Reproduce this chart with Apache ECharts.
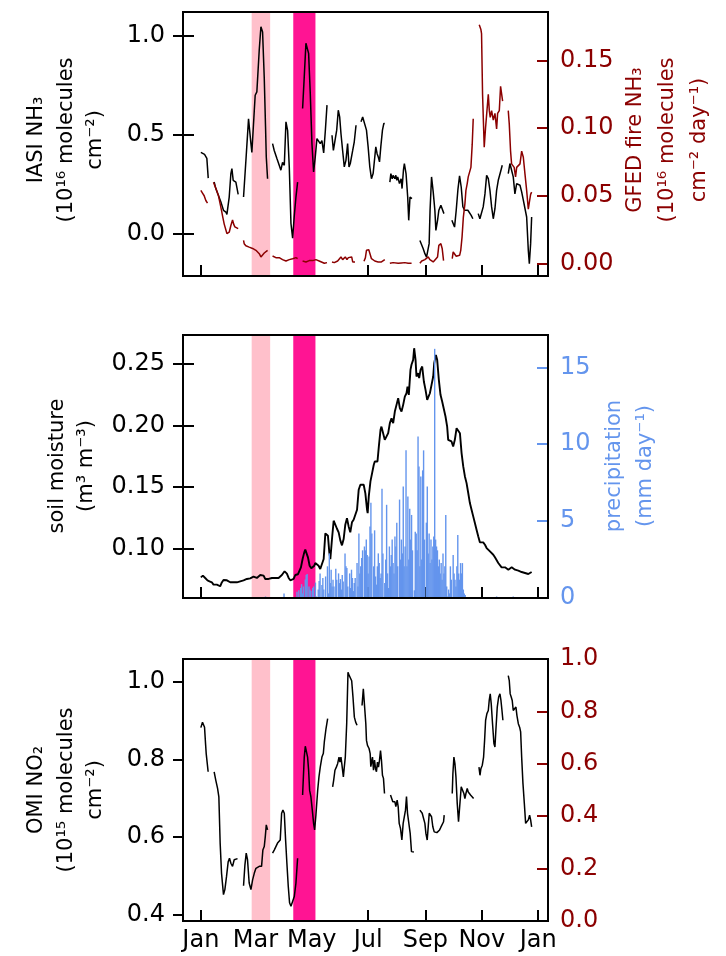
<!DOCTYPE html>
<html>
<head>
<meta charset="utf-8">
<script src="https://cdn.jsdelivr.net/npm/echarts@6/dist/echarts.min.js"></script>
<style>
  html, body { margin: 0; padding: 0; background: #fff; }
  #chart { width: 726px; height: 956px; }
</style>
</head>
<body>
<div id="chart"></div>
<script>
// day of year for the month ticks
const monthTickDays = [0, 59, 120, 181, 243, 304, 365]
const monthLabels = ['Jan', 'Mar', 'May', 'Jul', 'Sep', 'Nov', 'Jan']

// shaded periods (day of year)
const lightPinkSpan = [55, 75]
const deepPinkSpan = [100, 124]

// IASI NH3, 10^16 molecules cm^-2 (null = gap)
const iasiNH3 = [
  [0, 0.41], [2, 0.40], [4, 0.40], [5, 0.39], [6.5, 0.38], [8, 0.28], null,
  [14.4, 0.26], [16.2, 0.227], [18.1, 0.218], [21.7, 0.159], [24.5, 0.117], [27.1, 0.108], [28.2, 0.096], [30.7, 0.184],
  [32.5, 0.303], [33.6, 0.328], [35, 0.269], [36.8, 0.266], [37.9, 0.26], [40.4, 0.198], null,
  [46.2, 0.184], [47, 0.184], [49, 0.387], [51.6, 0.58], [54.2, 0.455], [55.2, 0.41], [57.8, 0.62], [58.8, 0.70],
  [60.6, 0.717], [61.4, 0.72], [63.2, 0.93], [65, 1.047], [66.8, 1.02], [68.6, 0.79], [70, 0.54], [70.8, 0.387], [72.2, 0.277], null,
  [77.6, 0.455], [79.4, 0.42], [82.3, 0.379], [84.8, 0.345], [86.6, 0.32], [88.4, 0.36], [90.3, 0.345], [92.1, 0.565],
  [93.9, 0.52], [95.7, 0.335], [97.5, 0.05], [99.3, -0.024], [101, 0.083], [102.9, 0.184], [104.7, 0.26], null,
  [110.1, 0.633], [111.9, 0.794], [113.7, 0.963], [115.5, 0.968], [116.6, 0.912], [118.4, 0.709], [120.2, 0.455], [122, 0.311],
  [123.8, 0.387], [125.6, 0.48], [127.4, 0.48], [129.2, 0.455], [131, 0.47], [132.9, 0.408], [134.7, 0.52], [136.5, 0.65], null,
  [141.9, 0.497], [143.4, 0.42], [145, 0.42], [147, 0.523], [148.7, 0.624], [150.2, 0.59], [151.6, 0.506], [153.4, 0.42],
  [155.2, 0.337], [157, 0.37], [158.8, 0.455], [160.3, 0.337], [161.7, 0.354], [164.3, 0.42], [166, 0.464], [167.9, 0.548], null,
  [173.3, 0.565], [175.1, 0.59], [176.9, 0.594], [179.2, 0.523], [181, 0.438], [182.8, 0.337], [184.6, 0.277], [186.4, 0.303],
  [188.2, 0.387], [189.3, 0.438], [190.7, 0.404], [192, 0.387], [193.3, 0.362], [194.7, 0.438], [196.5, 0.523], [198, 0.557], [199, 0.557], null,
  [204.5, 0.26], [205.6, 0.303], [207, 0.277], [208, 0.294], [209.9, 0.277], [211, 0.294], [212, 0.269], [213, 0.286],
  [214.9, 0.252], [216.7, 0.277], [217.7, 0.227], [219.2, 0.32], [220.2, 0.354], [222, 0.303], [223.8, 0.184], [224.9, 0.066],
  [226.3, 0.184], [227.3, 0.193], [228.4, 0.176], null,
  [237, -0.036], [238.8, -0.044], [240.6, -0.078], [242.4, -0.103], [244.2, -0.12], [246, -0.125], [247, -0.052], [248, 0.117],
  [249.6, 0.286], [251.4, 0.21], [253.2, 0.117], [254.3, 0.015], [256.1, 0.066], [257.5, 0.117], [259.7, 0.142], [261.1, 0.134], [263, 0.10], null,
  [271.6, 0.066], [272.7, 0.058], [274.5, 0.032], [276.3, 0.117], [278.1, 0.22], [279.9, 0.291], [281.7, 0.235], [283.5, 0.135],
  [285.3, 0.117], [287.1, 0.125], [288.9, 0.117], [290.7, 0.108], [292.5, 0.091], [294.3, 0.074], null,
  [300.1, 0.10], [301.9, 0.074], [303.7, 0.074], [305.5, 0.134], [307.4, 0.20], [309.2, 0.294], [311, 0.277], [312.8, 0.218],
  [314.6, 0.134], [316.4, 0.074], [318.2, 0.125], [320, 0.218], [321.8, 0.269], [323.6, 0.269], [324.7, 0.32], [326.1, 0.345], null,
  [332.6, 0.303], [334.4, 0.354], [336.2, 0.362], [338, 0.286], [339.8, 0.20], [341.7, 0.252], [343.4, 0.252], [345.3, 0.244],
  [347.1, 0.21], [348.9, 0.168], [350.7, 0.159], [352.5, 0.083], [354.3, -0.086], [355.4, -0.154], [356.8, -0.052], [357.9, 0.083]
]

// GFED fire NH3, 10^16 molecules cm^-2 day^-1
const gfedFireNH3 = [
  [0, 0.054], [1.8, 0.052], [3.6, 0.050], [5.4, 0.0465], [7.2, 0.0446], null,
  [13.7, 0.060], [15.2, 0.059], [17, 0.054], [19.1, 0.050], [20.9, 0.044], [22.4, 0.039], [23.8, 0.034], [25.3, 0.029],
  [27.1, 0.028], [28.2, 0.022], [29.6, 0.021], [30.7, 0.023], [32.5, 0.028], [34.3, 0.032], [35.5, 0.029], [36.8, 0.027],
  [38.6, 0.027], [40.4, 0.0256], null,
  [46.2, 0.017], [46.9, 0.0145], [48.7, 0.013], [50.5, 0.014], [52.3, 0.012], [54.2, 0.013], [56, 0.011], [57.8, 0.0115],
  [59.6, 0.0096], [61.4, 0.009], [63.2, 0.0071], [65, 0.0047], [66.8, 0.0052], [68.6, 0.0076], [70.4, 0.009], [72.2, 0.0096], null,
  [77.6, 0.0054], [81.2, 0.0042], [84.8, 0.0042], [88.4, 0.0027], [92.1, 0.0017], [95.7, 0.0027], [99.3, 0.0034], [102.9, 0.0042], [104.7, 0.0034], null,
  [110.1, 0.0017], [113.7, 0.001], [117.3, 0.002], [119.1, 0.001], [121, 0.002], [122.7, 0.0017], [124.5, 0.0027], [128, 0.0017],
  [130, 0.001], [133.6, 0], [136.5, 0.0005], null,
  [141.9, 0.001], [144.4, 0.0005], [146, 0.001], [148, 0.0017], [149.8, 0.0027], [151.6, 0.0047], [153.4, 0.0027], [155.2, 0.0034],
  [156.3, 0.0047], [158.1, 0.0027], [159.6, 0.0042], [161.4, 0.0042], [163.2, 0.0047], [164.3, 0.001], [166.8, 0.001], null,
  [176.5, 0.0015], [178, 0.004], [179.2, 0.0096], [181.7, 0.010], [183, 0.0096], [184.6, 0.0034], [186.4, 0.0022], [188.2, 0.0017],
  [190, 0.0017], [191.8, 0.001], [195.4, 0.001], [199, 0.0027], null,
  [204.5, 0], [208, 0.0005], [210, 0.0003], [213.5, 0], [217, 0.0003], [220.7, 0.0005], [224.3, 0], [228, 0], null,
  [237, 0], [239, 0.0017], [242.4, 0.0027], [244.2, 0.0034], [246, 0.0047], [247.8, 0.0027], [249.6, 0.0017], [251.4, 0.001],
  [253.2, 0.0005], [256.1, 0.0047], [257.5, 0.0133], [259.7, 0.0145], [261.1, 0.011], [262.6, 0.002], null,
  [272, 0.0034], [273, 0.0084], [274.5, 0.0096], [276.3, 0.0052], [278.1, 0.0047], [280, 0.0059], [281.2, 0.0096], [282.6, 0.0194],
  [284, 0.034], [285.7, 0.044], [286.8, 0.054], [288.2, 0.059], [289.3, 0.064], [290.4, 0.065], [292.2, 0.071], [293.6, 0.088], [294.7, 0.107], null,
  [301.2, 0.1765], [303, 0.173], [303.7, 0.17], [304.8, 0.125], [306.6, 0.086], [308, 0.10], [309.2, 0.101], [311, 0.125],
  [312.1, 0.113], [313.1, 0.108], [314.6, 0.113], [316.4, 0.106], [318.2, 0.111], [320, 0.0995], [321.1, 0.111], [322.9, 0.113],
  [324.3, 0.131], [325.4, 0.130], [326.5, 0.12], null,
  [332.6, 0.113], [333.7, 0.103], [335.1, 0.083], [336.2, 0.0736], [337.5, 0.0725], [339, 0.071], [340.5, 0.064], [341.7, 0.071],
  [343.4, 0.07], [345.3, 0.0736], [347.1, 0.083], [348.9, 0.0785], [350.7, 0.066], [352.5, 0.054], [354.3, 0.040], [355.4, 0.045],
  [356.8, 0.051], [357.9, 0.0527]
]

// soil moisture, m3 m-3
const soilMoisture = [
  [0, 0.0771], [2.2, 0.0785], [4.7, 0.0766], [7.2, 0.0747], [9.4, 0.0739], [11.9, 0.0731], [13.7, 0.0712], [15.5, 0.0704],
  [17.3, 0.0712], [19.1, 0.0704], [20.9, 0.0699], [22.7, 0.073], [24.5, 0.075], [26.4, 0.0758], [28.2, 0.0747], [30, 0.0739],
  [31.8, 0.0731], [33.6, 0.0739], [35.4, 0.0731], [37.2, 0.0736], [39, 0.0731], [40.8, 0.0747], [42.6, 0.0739], [44.4, 0.0752],
  [46.2, 0.0747], [48, 0.0752], [49.8, 0.0758], [51.6, 0.0752], [53.4, 0.0763], [55.2, 0.0766], [57, 0.0777], [58.8, 0.0766],
  [60.6, 0.0766], [62.5, 0.0771], [64.3, 0.079], [66.1, 0.079], [67.9, 0.0785], [69.7, 0.0758], [71.5, 0.075], [73.3, 0.0758],
  [75.1, 0.0766], [76.9, 0.0766], [78.7, 0.0758], [80.5, 0.0766], [82.3, 0.0763], [84.1, 0.0766], [85.9, 0.0766], [87.7, 0.079],
  [89.5, 0.0801], [90.6, 0.082], [92, 0.0815], [93.1, 0.0801], [95, 0.0766], [96.8, 0.0747], [98.6, 0.0739], [100.4, 0.0758],
  [102.2, 0.079], [104, 0.0777], [105, 0.0796], [106.9, 0.0812], [108.3, 0.0852], [110.1, 0.0919], [111.9, 0.0973], [113, 0.0995],
  [114.8, 0.0979], [115.9, 0.0933], [117.7, 0.0865], [119.5, 0.0844], [121.3, 0.0839], [122.7, 0.0865], [123.8, 0.0887], [125.6, 0.0887],
  [127.4, 0.0865], [129.2, 0.0839], [131, 0.0852], [132.9, 0.0919], [134.7, 0.1127], [136.5, 0.1135], [137.5, 0.1108], [139, 0.0973],
  [140.1, 0.0919], [141.9, 0.1081], [143.7, 0.1229], [145.5, 0.1216], [147.3, 0.1164], [149.1, 0.1135], [150.9, 0.107], [152.7, 0.103],
  [154.5, 0.1081], [156.3, 0.1197], [158.1, 0.125], [159.9, 0.1183], [161.7, 0.1135], [163.5, 0.1216], [165.3, 0.1237], [167.2, 0.1237],
  [169, 0.1318], [170.8, 0.148], [172.6, 0.152], [174.4, 0.1507], [176.2, 0.152], [178, 0.145], [179.8, 0.132], [180.5, 0.129],
  [181.7, 0.1426], [183.5, 0.1547], [185.3, 0.1614], [187.1, 0.1682], [188.2, 0.1708], [190, 0.1722], [191.1, 0.1708], [192.6, 0.183],
  [194.4, 0.1964], [195.4, 0.199], [197.2, 0.1977], [199, 0.1883], [200.9, 0.187], [202.7, 0.1937], [204.5, 0.2018], [206.3, 0.2058],
  [208.1, 0.2018], [209.9, 0.2112], [211.7, 0.2166], [213.5, 0.222], [215.3, 0.2139], [217.1, 0.2112], [218.9, 0.2166], [220.7, 0.2233],
  [222.5, 0.226], [223.6, 0.2314], [225, 0.2247], [226.8, 0.2449], [227.9, 0.249], [229.7, 0.253], [230.8, 0.2624], [232.3, 0.253],
  [233.3, 0.2395], [235.2, 0.2422], [236.2, 0.2382], [237.7, 0.2449], [239.5, 0.2476], [241.3, 0.2355], [243.1, 0.2287], [244.9, 0.2207],
  [246, 0.2193], [247.8, 0.226], [249.6, 0.2328], [251.4, 0.2395], [252.5, 0.2503], [254.3, 0.257], [255.7, 0.253], [257.5, 0.2368],
  [259.3, 0.2247], [261.1, 0.2193], [262.9, 0.2207], [264.7, 0.2072], [266.5, 0.199], [267.6, 0.1883], [269.4, 0.187], [271.2, 0.187],
  [273, 0.183], [274.8, 0.1883], [276.7, 0.1977], [278.5, 0.199], [280.3, 0.1937], [282.1, 0.1776], [283.9, 0.1668], [285.7, 0.1587],
  [287.5, 0.1533], [289.3, 0.1453], [291.1, 0.1372], [292.9, 0.1318], [294.7, 0.1264], [296.5, 0.121], [298.3, 0.1156], [300.1, 0.1103],
  [301.9, 0.1054], [303.7, 0.1043], [305.5, 0.1054], [307.4, 0.1035], [309.2, 0.1008], [311, 0.0995], [312.8, 0.0981], [314.6, 0.0968],
  [316.4, 0.0954], [318.2, 0.0933], [320, 0.092], [321.8, 0.0887], [323.6, 0.0873], [325.4, 0.0852], [327.2, 0.0839], [329.1, 0.0852],
  [330.9, 0.0839], [332.7, 0.0833], [334.5, 0.0844], [336.3, 0.0852], [338.1, 0.0852], [339.9, 0.0833], [341.7, 0.0825], [343.5, 0.0825],
  [345.3, 0.082], [347.1, 0.0814], [348.9, 0.0814], [350.7, 0.0806], [352.5, 0.0793], [354.3, 0.0798], [356.2, 0.0801], [357.9, 0.0814]
]

// precipitation, mm day-1
const precipitation = [
  [70, 0.1], [90, 0.3], [104, 0.4], [106, 0.5], [108, 0.65], [109, 0.9], [110, 0.3], [111, 0.75], [113, 1.2], [114, 1.5],
  [115, 1.56], [117, 0.75], [118, 0.55], [119, 0.45], [121, 0.65], [122, 0.75], [124, 1.0], [125, 0.1], [127, 0.55], [128, 1.1],
  [129, 1.6], [131, 0.85], [132, 1.3], [133, 0.55], [135, 1.4], [137, 2.06], [138, 0.3], [139, 2.9], [140, 0.97], [141, 1.84],
  [142, 0.75], [143, 1.19], [144, 0.75], [146, 1.9], [147, 1.19], [149, 1.6], [150, 0.97], [151, 1.23], [152, 0.55], [153, 1.5],
  [154, 1.08], [156, 2.9], [157, 2.06], [158, 1.95], [159, 0.75], [161, 1.6], [162, 0.65], [163, 1.84], [164, 1.3], [165, 0.45],
  [166, 0.97], [167, 1.3], [169, 2.27], [170, 0.75], [171, 4.2], [172, 1.6], [173, 2.06], [174, 2.6], [175, 3.1], [177, 3.35],
  [178, 3.1], [179, 3.8], [180, 2.8], [181, 1.6], [182, 2.7], [183, 4.65], [184, 6.2], [185, 4.2], [187, 2.06], [188, 4.4],
  [189, 1.4], [190, 0.87], [191, 2.06], [192, 2.9], [193, 2.27], [194, 1.3], [195, 1.6], [196, 7.1], [197, 2.9], [199, 0.97],
  [200, 2.5], [201, 6.06], [202, 1.6], [203, 0.65], [204, 3.35], [205, 2.06], [206, 2.8], [207, 3.8], [208, 2.27], [209, 1.6],
  [210, 4.0], [211, 3.35], [212, 4.9], [213, 2.06], [215, 6.4], [216, 2.5], [217, 3.8], [218, 2.9], [219, 7.25], [220, 2.06],
  [221, 3.35], [222, 9.6], [223, 2.06], [224, 6.6], [225, 2.5], [226, 5.8], [227, 3.8], [228, 5.4], [229, 3.1], [231, 0.5],
  [232, 4.3], [233, 4.2], [234, 3.1], [235, 10.5], [236, 8.55], [237, 2.06], [238, 7.9], [239, 2.5], [240, 8.3], [241, 9.6],
  [242, 3.8], [244, 4.9], [245, 7.25], [246, 2.9], [247, 4.2], [248, 2.27], [249, 3.8], [250, 2.5], [251, 3.35], [252, 4.0],
  [253, 16.2], [254, 3.8], [255, 3.35], [256, 3.1], [257, 2.06], [258, 2.5], [259, 1.6], [260, 2.27], [261, 1.19], [262, 2.9],
  [263, 1.6], [264, 2.06], [265, 5.4], [266, 0.75], [267, 0.1], [268, 0.55], [269, 0.3], [270, 2.06], [271, 1.19], [273, 2.8],
  [274, 1.6], [275, 1.19], [276, 0.75], [277, 2.06], [278, 4.1], [279, 1.6], [280, 1.19], [281, 2.27], [282, 1.6], [283, 2.27],
  [284, 0.55], [285, 0.3], [286, 0.2], [320, 0.1], [338, 0.1]
]

// OMI NO2, 10^15 molecules cm^-2
const omiNO2 = [
  [0, 0.882], [1.8, 0.896], [2.9, 0.899], [4, 0.883], [5.1, 0.84], [5.8, 0.815], [6.9, 0.813], [7.9, 0.768], null,
  [14.4, 0.768], [16.2, 0.746], [18.1, 0.725], [19.5, 0.703], [20.9, 0.584], [22.4, 0.506], [24.5, 0.451], [26, 0.464],
  [27.8, 0.498], [29.6, 0.536], [31, 0.545], [32.5, 0.532], [34.3, 0.524], [36.1, 0.541], [37.9, 0.543], [39.7, 0.544], null,
  [46.2, 0.474], [47.7, 0.528], [49.1, 0.558], [50.5, 0.541], [52.3, 0.481], [54.2, 0.464], [56, 0.489], [57.8, 0.506],
  [59.6, 0.519], [61.4, 0.517], [63.2, 0.524], [64.3, 0.519], [65.7, 0.524], [67.1, 0.566], [68.6, 0.575], [69.7, 0.60],
  [70.8, 0.631], [72.2, 0.618], null,
  [77.6, 0.558], [79.4, 0.566], [81.2, 0.575], [83, 0.584], [85.9, 0.592], [87.4, 0.661], [88.8, 0.669], [90.3, 0.661],
  [91.7, 0.592], [93.1, 0.532], [94.6, 0.472], [96, 0.43], [97.5, 0.421], [99.3, 0.416], [101.1, 0.446], [102.9, 0.481], [104.7, 0.545], null,
  [110.1, 0.708], [111.9, 0.806], [113, 0.834], [114.4, 0.832], [115.5, 0.806], [116.6, 0.772], [117.7, 0.72], [119.1, 0.703],
  [120.6, 0.669], [122, 0.635], [123.1, 0.618], [124.5, 0.656], [126.4, 0.72], [127.8, 0.755], [129.2, 0.78], [131, 0.806],
  [132.5, 0.815], [133.6, 0.845], [135.4, 0.879], [137.2, 0.905], null,
  [142.6, 0.729], [143.7, 0.746], [145.1, 0.772], [146.6, 0.78], [148, 0.789], [149.5, 0.806], [150.5, 0.793], [151.6, 0.806],
  [152.7, 0.785], [154.2, 0.755], [155.2, 0.78], [156.3, 0.806], [157.8, 0.892], [159.2, 1.025], [160.6, 1.016], [161.7, 1.02],
  [163.2, 1.003], [164.6, 0.961], [166.1, 0.909], [167.5, 0.896], [169, 0.888], null,
  [174.4, 0.939], [175.8, 0.982], [177.6, 0.98], [178.5, 0.892], [179.2, 0.849], [180.3, 0.836], [181, 0.832], [182, 0.828],
  [183.2, 0.815], [183.9, 0.781], [184.6, 0.776], [185.7, 0.806], [186.8, 0.772], [187.9, 0.798], [189, 0.776], [190, 0.768],
  [191.1, 0.793], [192.2, 0.78], [193.3, 0.798], [194.4, 0.823], [195.4, 0.798], [196.5, 0.759], [197.6, 0.751], [198.7, 0.712], null,
  [205.2, 0.708], [206.3, 0.704], [207.7, 0.691], [208.8, 0.686], [209.9, 0.691], [211, 0.678], [212.4, 0.695], [213.5, 0.678],
  [214.6, 0.635], [216, 0.622], [217.5, 0.592], [218.9, 0.635], [220.3, 0.639], [221.4, 0.669], [222.5, 0.704], [223.6, 0.661],
  [225, 0.661], [226.5, 0.609], [227.9, 0.562], [229, 0.56], [230.5, 0.561], null,
  [237, 0.669], [238.1, 0.665], [239.5, 0.661], [240.9, 0.656], [242.4, 0.635], [243.5, 0.609], [244.9, 0.592], [246, 0.626],
  [247.1, 0.661], [248.5, 0.661], [249.6, 0.652], [251, 0.626], [252.5, 0.613], [253.9, 0.609], [255.4, 0.611], [256.8, 0.613],
  [258.3, 0.618], [259.7, 0.625], [261.1, 0.628], [262.6, 0.639], [263.3, 0.656], null,
  [272, 0.712], [272.7, 0.763], [273.8, 0.806], [274.9, 0.789], [276, 0.755], [277.4, 0.686], [278.8, 0.639], [280.3, 0.686],
  [281.7, 0.729], [283.1, 0.733], [284.6, 0.712], [285.7, 0.699], [286.8, 0.712], [288.2, 0.725], [289.3, 0.716], [290.4, 0.716],
  [291.8, 0.708], [293.6, 0.704], [295.1, 0.699], null,
  [300.9, 0.78], [302, 0.759], [303, 0.776], [304.5, 0.785], [305.9, 0.806], [307, 0.849], [308.1, 0.901], [309.5, 0.918],
  [311, 0.926], [312, 0.952], [313.1, 0.969], [314.2, 0.943], [315.6, 0.892], [317.1, 0.841], [318.2, 0.832], [319.2, 0.875],
  [320.7, 0.935], [322.2, 0.961], [323.6, 0.969], [324.7, 0.952], [325.8, 0.926], [326.8, 0.901], null,
  [332.6, 1.016], [333.7, 1.003], [334.7, 0.969], [335.8, 0.961], [336.9, 0.952], [338, 0.926], [339.4, 0.931], [340.9, 0.935],
  [342, 0.913], [343.5, 0.892], [344.9, 0.883], [346, 0.871], [347.1, 0.806], [348.5, 0.738], [350, 0.686], [351.4, 0.635],
  [352.8, 0.631], [354.3, 0.644], [355.7, 0.656], [356.8, 0.644], [357.9, 0.626]
]

// tick values
const nh3Ticks = [0, 0.5, 1.0]
const fireTicks = [0, 0.05, 0.10, 0.15]
const soilTicks = [0.10, 0.15, 0.20, 0.25]
const precipTicks = [0, 5, 10, 15]
const no2Ticks = [0.4, 0.6, 0.8, 1.0]
const no2RightTicks = [0, 0.2, 0.4, 0.6, 0.8, 1.0]

const FONT = 'DejaVu Sans'
const DARKRED = '#8B0000'
const BLUE = '#6495ED'

// layout of the three panels (pixels)
const panels = [
  { top: 12, height: 264 },
  { top: 335, height: 263 },
  { top: 659, height: 262 }
]
const plotLeft = 183
const plotWidth = 365

const chart = echarts.init(document.getElementById('chart'))

function gaps (arr) {
  return arr.map(function (p) { return p ? p : ['-', '-'] })
}

function xAxisFor (gridIndex, showLabels) {
  return {
    gridIndex: gridIndex,
    type: 'value',
    position: 'bottom',
    min: -19.3,
    max: 375.6,
    show: gridIndex < 3,
    axisLine: { show: false, onZero: false },
    splitLine: { show: false },
    axisTick: {
      show: true,
      inside: true,
      length: 11,
      customValues: monthTickDays,
      lineStyle: { color: '#000', width: 2 }
    },
    axisLabel: {
      show: showLabels,
      customValues: monthTickDays,
      formatter: function (v) { return monthLabels[monthTickDays.indexOf(v)] },
      color: '#000',
      fontFamily: FONT,
      fontSize: 24,
      margin: 8
    }
  }
}

function yAxisFor (gridIndex, position, min, max, ticks, digits, color, tickInside, showLabels) {
  return {
    gridIndex: gridIndex,
    type: 'value',
    position: position,
    min: min,
    max: max,
    axisLine: { show: false, onZero: false },
    splitLine: { show: false },
    axisTick: {
      show: true,
      inside: tickInside,
      length: tickInside ? 11 : 10,
      customValues: ticks,
      lineStyle: { color: color, width: 2 }
    },
    axisLabel: {
      show: showLabels,
      customValues: ticks,
      formatter: function (v) { return v.toFixed(digits) },
      color: color,
      fontFamily: FONT,
      fontSize: 24,
      margin: position === 'left' ? 18 : 12
    }
  }
}

function shading (xi, yi) {
  return {
    type: 'line',
    xAxisIndex: xi,
    yAxisIndex: yi,
    data: [],
    z: 1,
    silent: true,
    markArea: {
      silent: true,
      data: [
        [{ xAxis: lightPinkSpan[0], itemStyle: { color: '#FFC0CB', opacity: 1 } }, { xAxis: lightPinkSpan[1] }],
        [{ xAxis: deepPinkSpan[0], itemStyle: { color: '#FF1493', opacity: 1 } }, { xAxis: deepPinkSpan[1] }]
      ]
    }
  }
}

function lineSeries (xi, yi, data, color, width, z) {
  return {
    type: 'line',
    xAxisIndex: xi,
    yAxisIndex: yi,
    data: gaps(data),
    showSymbol: false,
    connectNulls: false,
    lineStyle: { color: color, width: width },
    z: z
  }
}

function vText (x, y, text, color) {
  return {
    type: 'text',
    x: x,
    y: y,
    rotation: Math.PI / 2,
    style: {
      text: text,
      fill: color,
      font: '21px ' + FONT,
      textAlign: 'center',
      textVerticalAlign: 'middle'
    },
    z: 20
  }
}

const grids = panels.map(function (p) {
  return { left: plotLeft, top: p.top, width: plotWidth, height: p.height, show: false }
})
// overlay grids for the inward half of the left ticks in panels 1 and 2
grids.push({ left: plotLeft, top: panels[0].top, width: plotWidth, height: panels[0].height, show: false })
grids.push({ left: plotLeft, top: panels[1].top, width: plotWidth, height: panels[1].height, show: false })

const frames = panels.map(function (p) {
  return {
    type: 'rect',
    shape: { x: plotLeft, y: p.top, width: plotWidth, height: p.height },
    style: { fill: null, stroke: '#000', lineWidth: 2 },
    z: 30,
    silent: true
  }
})

chart.setOption({
  animation: false,
  backgroundColor: '#fff',
  grid: grids,
  xAxis: [
    xAxisFor(0, false),
    xAxisFor(1, false),
    xAxisFor(2, true),
    xAxisFor(3, false),
    xAxisFor(4, false)
  ],
  yAxis: [
    yAxisFor(0, 'left', -0.216, 1.1216, nh3Ticks, 1, '#000', false, true),
    yAxisFor(0, 'right', -0.0094, 0.186, fireTicks, 2, DARKRED, true, true),
    yAxisFor(1, 'left', 0.0604, 0.2731, soilTicks, 2, '#000', false, true),
    yAxisFor(1, 'right', 0, 17.1, precipTicks, 0, BLUE, true, true),
    yAxisFor(2, 'left', 0.383, 1.059, no2Ticks, 1, '#000', false, true),
    yAxisFor(2, 'right', 0, 1, no2RightTicks, 1, DARKRED, true, true),
    yAxisFor(3, 'left', -0.216, 1.1216, nh3Ticks, 1, '#000', true, false),
    yAxisFor(4, 'left', 0.0604, 0.2731, soilTicks, 2, '#000', true, false)
  ],
  series: [
    shading(0, 0),
    lineSeries(0, 0, iasiNH3, '#000', 1.5, 2),
    lineSeries(0, 1, gfedFireNH3, DARKRED, 1.5, 3),
    shading(1, 2),
    lineSeries(1, 2, soilMoisture, '#000', 1.9, 2),
    {
      type: 'bar',
      xAxisIndex: 1,
      yAxisIndex: 3,
      data: precipitation,
      barWidth: 1.4,
      itemStyle: { color: BLUE },
      z: 3
    },
    shading(2, 4),
    lineSeries(2, 4, omiNO2, '#000', 1.5, 2)
  ],
  graphic: frames.concat([
    vText(37, 140, 'IASI NH₃', '#000'),
    vText(67, 140, '(10¹⁶ molecules', '#000'),
    vText(96, 140, 'cm⁻²)', '#000'),
    vText(636, 140, 'GFED fire NH₃', DARKRED),
    vText(668, 140, '(10¹⁶ molecules', DARKRED),
    vText(700, 140, 'cm⁻² day⁻¹)', DARKRED),
    vText(58, 466, 'soil moisture', '#000'),
    vText(87, 466, '(m³ m⁻³)', '#000'),
    vText(615, 466, 'precipitation', BLUE),
    vText(646, 466, '(mm day⁻¹)', BLUE),
    vText(37, 790, 'OMI NO₂', '#000'),
    vText(67, 790, '(10¹⁵ molecules', '#000'),
    vText(96, 790, 'cm⁻²)', '#000')
  ])
})
</script>
</body>
</html>
